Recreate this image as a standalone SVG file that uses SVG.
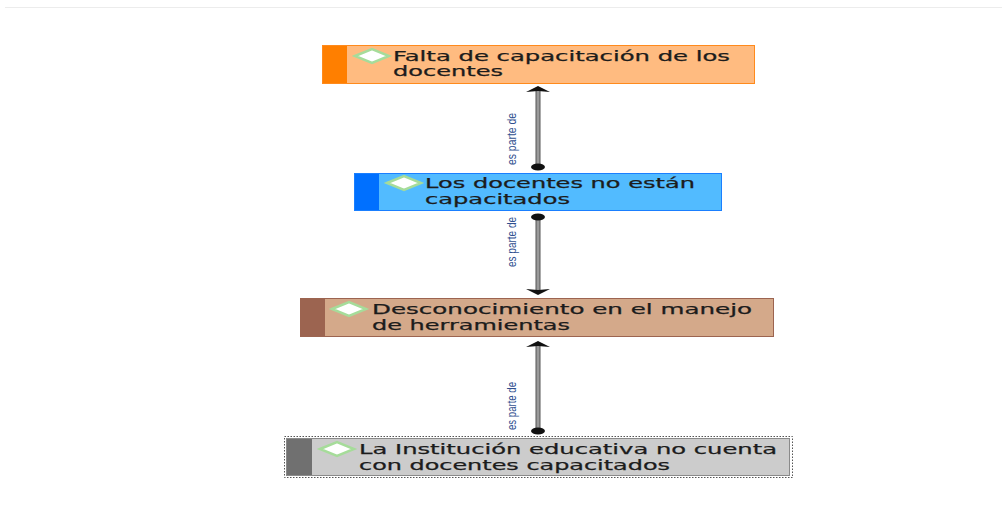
<svg xmlns="http://www.w3.org/2000/svg" width="1002" height="515" viewBox="0 0 1002 515">
  <style>
    .lbl { font-family: "DejaVu Sans", "Liberation Sans", sans-serif; font-size: 14px; fill: #1c1c1c; stroke: #1c1c1c; stroke-width: 0.25; }
    .rel { font-family: "Liberation Sans", "DejaVu Sans", sans-serif; font-size: 12.5px; fill: #2f4f8f; }
    .dia { fill: #ffffff; stroke: #a6dc9a; stroke-width: 2.5; stroke-linejoin: miter; }
    .shaft { stroke: #555555; stroke-width: 5; }
    .core { stroke: #9a9a9a; stroke-width: 3; }
    .head { fill: #111111; }
  </style>
  <defs>
    <polygon id="diamond" class="dia" points="-17,0 0,-7 17,0 0,7"/>
  </defs>

  <rect x="0" y="0" width="1002" height="515" fill="#ffffff"/>
  <line x1="5" y1="7.5" x2="1002" y2="7.5" stroke="#ececec" stroke-width="1"/>

  <!-- connectors: "es parte de" links between the concept boxes -->
  <g id="connectors">
    <g id="link-1">
      <line class="shaft" x1="538" y1="90" x2="538" y2="166"/>
      <line class="core" x1="538" y1="90" x2="538" y2="166"/>
      <polygon class="head" points="526,92 538,86 550,92 538,91"/>
      <ellipse class="head" cx="538" cy="167" rx="7" ry="3.5"/>
      <text class="rel" transform="translate(516,139) rotate(-90)" text-anchor="middle" textLength="52" lengthAdjust="spacingAndGlyphs">es parte de</text>
    </g>
    <g id="link-2">
      <line class="shaft" x1="538" y1="217" x2="538" y2="292"/>
      <line class="core" x1="538" y1="217" x2="538" y2="292"/>
      <ellipse class="head" cx="538" cy="217" rx="7" ry="3.5"/>
      <polygon class="head" points="526,289 538,295 550,289 538,290"/>
      <text class="rel" transform="translate(516,242) rotate(-90)" text-anchor="middle" textLength="50" lengthAdjust="spacingAndGlyphs">es parte de</text>
    </g>
    <g id="link-3">
      <line class="shaft" x1="538" y1="345" x2="538" y2="430"/>
      <line class="core" x1="538" y1="345" x2="538" y2="430"/>
      <polygon class="head" points="526,347 538,341 550,347 538,346"/>
      <ellipse class="head" cx="538" cy="431" rx="7" ry="3.5"/>
      <text class="rel" transform="translate(516,406) rotate(-90)" text-anchor="middle" textLength="48" lengthAdjust="spacingAndGlyphs">es parte de</text>
    </g>
  </g>

  <!-- concept boxes -->
  <g id="node-falta-capacitacion">
    <rect x="322.5" y="45.5" width="432" height="38" fill="#ffbb80" stroke="#ff8a1c" stroke-width="1"/>
    <rect x="323" y="46" width="24" height="37" fill="#ff7f00"/>
    <use href="#diamond" x="372" y="56"/>
    <text class="lbl" x="393" y="61" textLength="337" lengthAdjust="spacingAndGlyphs">Falta de capacitación de los</text>
    <text class="lbl" x="393" y="76" textLength="110" lengthAdjust="spacingAndGlyphs">docentes</text>
  </g>

  <g id="node-no-capacitados">
    <rect x="354.5" y="173.5" width="367" height="37" fill="#52bbff" stroke="#1a7fff" stroke-width="1"/>
    <rect x="355" y="174" width="24" height="36" fill="#0070ff"/>
    <use href="#diamond" x="404" y="183"/>
    <text class="lbl" x="425" y="188" textLength="270" lengthAdjust="spacingAndGlyphs">Los docentes no están</text>
    <text class="lbl" x="425" y="204" textLength="145" lengthAdjust="spacingAndGlyphs">capacitados</text>
  </g>

  <g id="node-desconocimiento">
    <rect x="300.5" y="298.5" width="473" height="38" fill="#d4a98a" stroke="#9c6450" stroke-width="1"/>
    <rect x="301" y="299" width="24" height="37" fill="#9c6450"/>
    <use href="#diamond" x="349" y="309"/>
    <text class="lbl" x="372" y="314" textLength="380" lengthAdjust="spacingAndGlyphs">Desconocimiento en el manejo</text>
    <text class="lbl" x="372" y="330" textLength="198" lengthAdjust="spacingAndGlyphs">de herramientas</text>
  </g>

  <g id="node-institucion">
    <rect x="284.5" y="436.5" width="508" height="41" fill="none" stroke="#555555" stroke-width="1" stroke-dasharray="1.5,1.5"/>
    <rect x="286.5" y="438.5" width="503" height="37" fill="#cccccc" stroke="#8a8a8a" stroke-width="1"/>
    <rect x="287" y="439" width="25" height="36" fill="#707070"/>
    <use href="#diamond" x="337" y="449"/>
    <text class="lbl" x="359" y="454" textLength="418" lengthAdjust="spacingAndGlyphs">La Institución educativa no cuenta</text>
    <text class="lbl" x="359" y="470" textLength="311" lengthAdjust="spacingAndGlyphs">con docentes capacitados</text>
  </g>
</svg>
